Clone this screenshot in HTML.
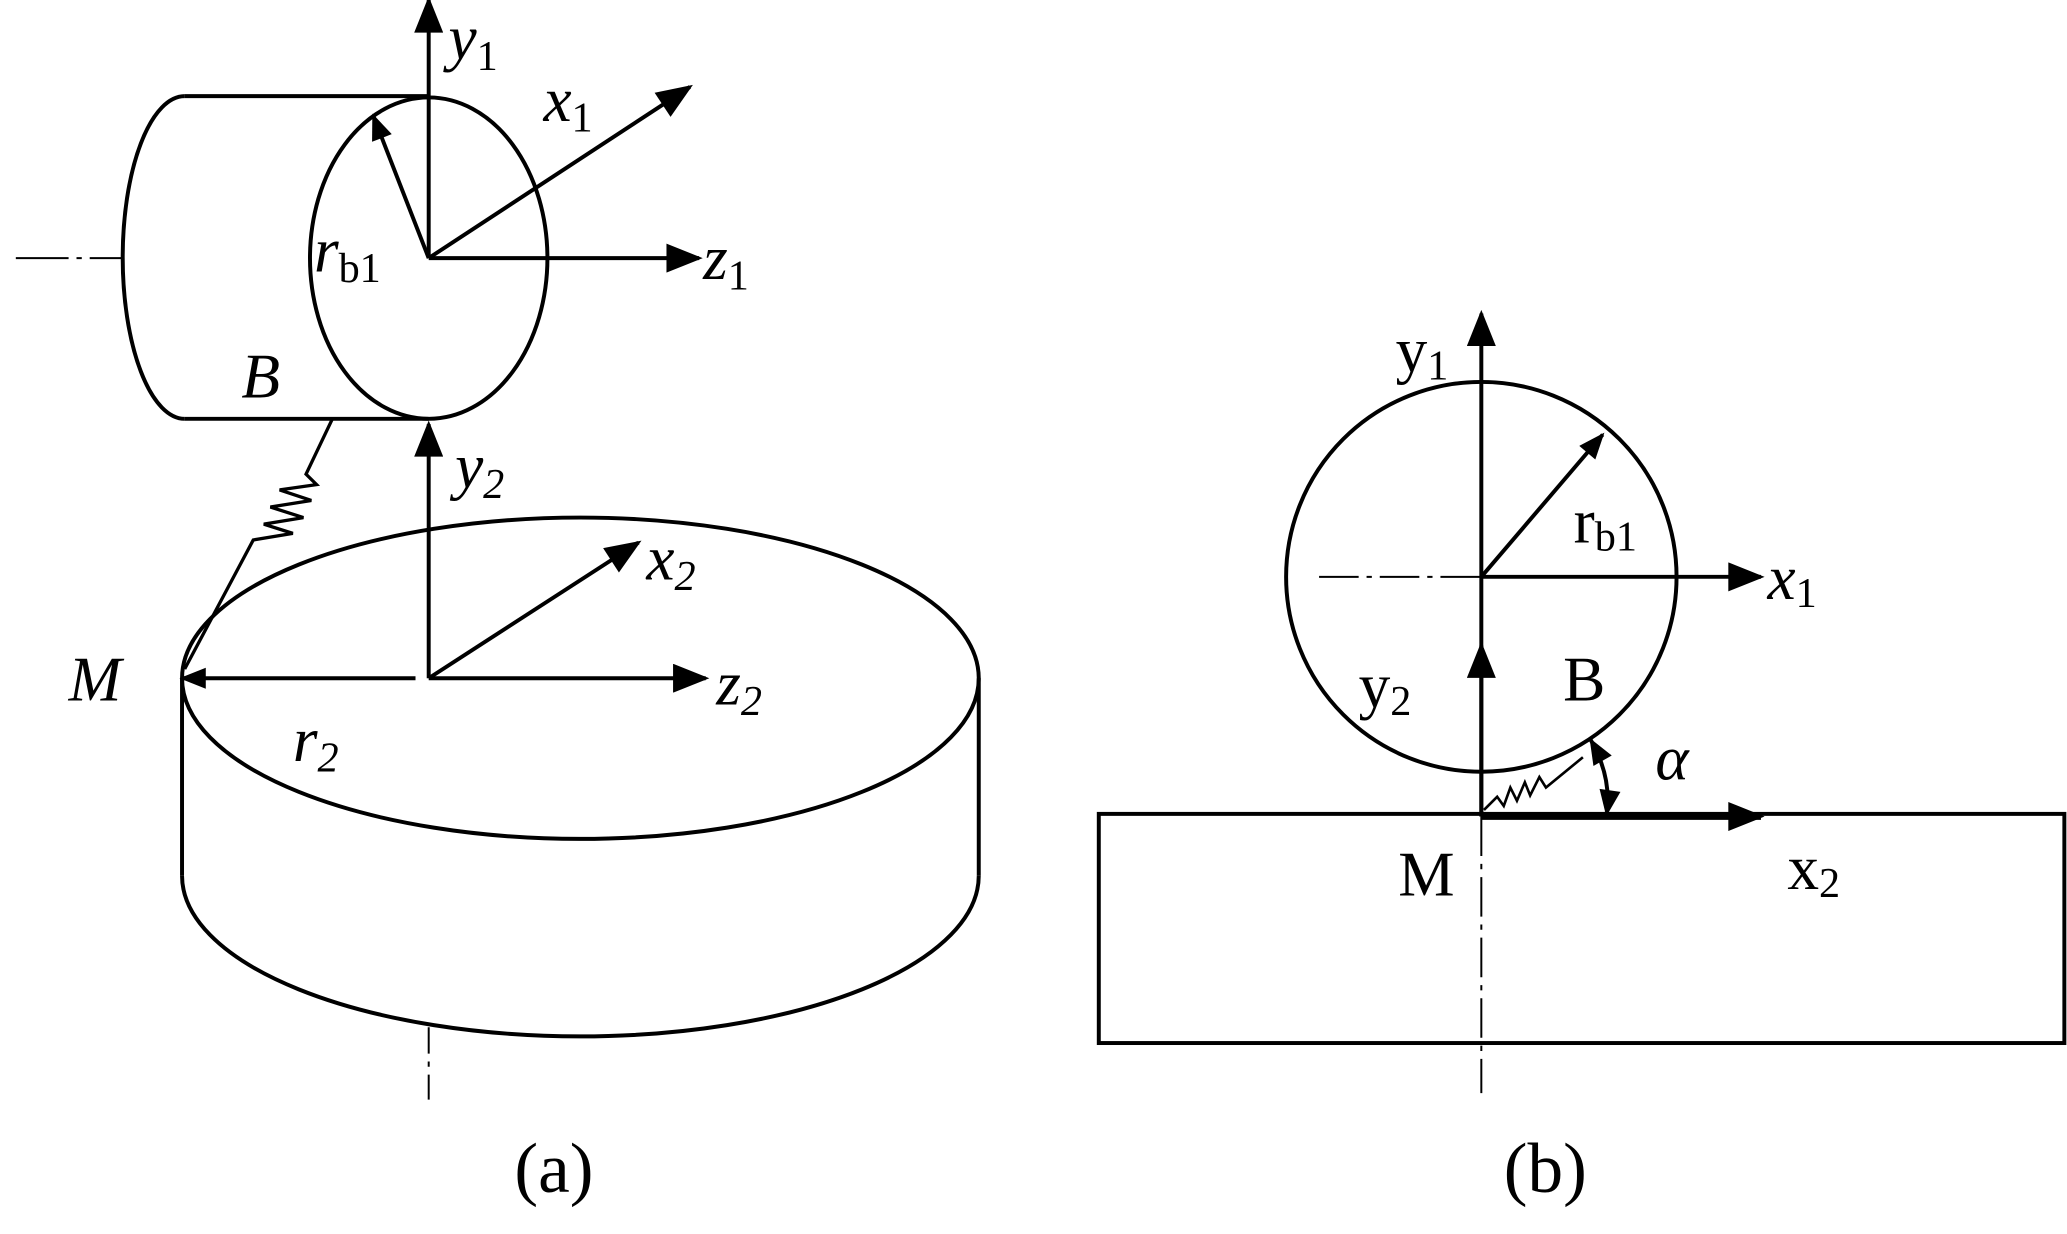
<!DOCTYPE html>
<html><head><style>html,body{margin:0;padding:0;background:#fff}svg{display:block}text{font-family:"Liberation Serif",serif;fill:#000}</style></head>
<body>
<svg width="2067" height="1234" viewBox="0 0 1567 937" preserveAspectRatio="none" xmlns="http://www.w3.org/2000/svg">
<defs>
<marker id="A" viewBox="0 0 10 8" refX="9" refY="4" markerWidth="34" markerHeight="22" orient="auto" markerUnits="userSpaceOnUse"><path d="M0,0L10,4L0,8z"/></marker>
<marker id="s" viewBox="0 0 10 8" refX="9" refY="4" markerWidth="22" markerHeight="16" orient="auto-start-reverse" markerUnits="userSpaceOnUse"><path d="M0,0L10,4L0,8z"/></marker></defs>
<g fill="none" stroke="#000" stroke-width="3">
<line x1="140" y1="73" x2="325" y2="73"/><line x1="140" y1="318" x2="325" y2="318"/>
<path d="M140,73 A47,122.5 0 0 0 140,318"/>
<ellipse cx="325" cy="196" rx="90" ry="122"/>
<line x1="12" y1="196" x2="92" y2="196" stroke-width="1.5" stroke-dasharray="40,6,4,6"/>
<line x1="325" y1="196" x2="325" y2="0" marker-end="url(#A)"/>
<line x1="325" y1="196" x2="523" y2="66" marker-end="url(#A)"/>
<line x1="325" y1="196" x2="530" y2="196" marker-end="url(#A)"/>
<line x1="325" y1="196" x2="283" y2="88" marker-end="url(#s)"/>
<ellipse cx="440" cy="515" rx="302" ry="122"/>
<line x1="138" y1="515" x2="138" y2="665"/><line x1="742" y1="515" x2="742" y2="665"/>
<path d="M138,665 A302,122 0 0 0 742,665"/>
<line x1="325" y1="515" x2="325" y2="322" marker-end="url(#A)"/>
<line x1="325" y1="515" x2="484" y2="412" marker-end="url(#A)"/>
<line x1="325" y1="515" x2="535" y2="515" marker-end="url(#A)"/>
<line x1="315" y1="515" x2="138" y2="515" marker-end="url(#s)"/>
<polyline stroke-width="2.5" points="252,318 232,360 240,368 212,372 236,380 205,385 230,393 200,398 222,405 192,410 140,508"/>
<line x1="325" y1="780" x2="325" y2="835" stroke-width="1.5" stroke-dasharray="20,6,4,6"/>
<circle cx="1123" cy="438" r="148"/>
<rect x="833" y="618" width="732" height="174"/>
<line x1="1123" y1="620" x2="1123" y2="238" marker-end="url(#A)"/>
<line x1="1123" y1="438" x2="1215" y2="330" marker-end="url(#s)"/>
<line x1="1123" y1="438" x2="1335" y2="438" marker-end="url(#A)"/>
<line x1="1000" y1="438" x2="1123" y2="438" stroke-width="1.5" stroke-dasharray="30,6,4,6"/>
<line x1="1123" y1="620" x2="1123" y2="490" marker-end="url(#A)"/>
<line x1="1123" y1="620" x2="1335" y2="620" stroke-width="5" marker-end="url(#A)"/>
<path d="M1206,562 Q1222,590 1218,618" marker-start="url(#s)" marker-end="url(#s)"/>
<polyline stroke-width="2" points="1125,615 1135,605 1140,612 1145,598 1150,608 1156,594 1160,604 1167,590 1172,598 1200,575"/>
<line x1="1123" y1="620" x2="1123" y2="830" stroke-width="1.5" stroke-dasharray="30,6,4,6"/>
</g>
<g font-size="48">
<text x="340" y="45" font-style="italic">y<tspan font-size="32" font-style="normal" dy="8">1</tspan></text>
<text x="412" y="92" font-style="italic">x<tspan font-size="32" font-style="normal" dy="8">1</tspan></text>
<text x="533" y="212" font-style="italic">z<tspan font-size="32" font-style="normal" dy="8">1</tspan></text>
<text x="238" y="206" font-style="italic">r<tspan font-size="32" font-style="normal" dy="8">b1</tspan></text>
<text x="183" y="302" font-style="italic">B</text>
<text x="345" y="370" font-style="italic">y<tspan font-size="32" dy="8">2</tspan></text>
<text x="490" y="440" font-style="italic">x<tspan font-size="32" dy="8">2</tspan></text>
<text x="543" y="535" font-style="italic">z<tspan font-size="32" dy="8">2</tspan></text>
<text x="52" y="532" font-style="italic">M</text>
<text x="222" y="578" font-style="italic">r<tspan font-size="32" dy="8">2</tspan></text>
<text x="390" y="905" font-size="54">(a)</text>
<text x="1058" y="282">y<tspan font-size="32" dy="6">1</tspan></text>
<text x="1193" y="412">r<tspan font-size="32" dy="6">b1</tspan></text>
<text x="1340" y="455" font-style="italic">x<tspan font-size="32" font-style="normal" dy="6">1</tspan></text>
<text x="1030" y="537">y<tspan font-size="32" dy="6">2</tspan></text>
<text x="1185" y="532">B</text>
<text x="1255" y="592" font-style="italic">α</text>
<text x="1060" y="680">M</text>
<text x="1355" y="675">x<tspan font-size="32" dy="6">2</tspan></text>
<text x="1140" y="905" font-size="54">(b)</text>
</g>
</svg>
</body></html>
